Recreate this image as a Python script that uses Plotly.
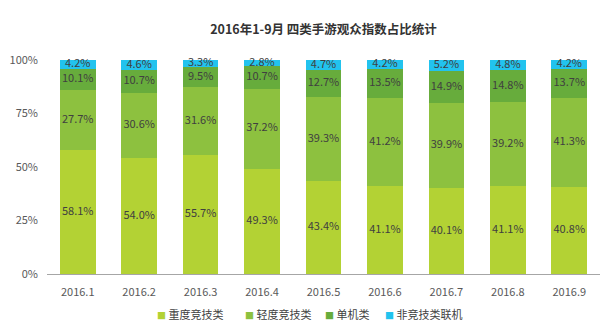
import plotly.graph_objects as go

months = ["2016.1", "2016.2", "2016.3", "2016.4", "2016.5", "2016.6", "2016.7", "2016.8", "2016.9"]
heavy = [58.1, 54.0, 55.7, 49.3, 43.4, 41.1, 40.1, 41.1, 40.8]
light = [27.7, 30.6, 31.6, 37.2, 39.3, 41.2, 39.9, 39.2, 41.3]
single = [10.1, 10.7, 9.5, 10.7, 12.7, 13.5, 14.9, 14.8, 13.7]
online = [4.2, 4.6, 3.3, 2.8, 4.7, 4.2, 5.2, 4.8, 4.2]

series = [
    ("重度竞技类", heavy, "#b3d234"),
    ("轻度竞技类", light, "#8dc13f"),
    ("单机类", single, "#67ac3c"),
    ("非竞技类联机", online, "#22c3ee"),
]
legend_x = [155, 243, 323, 383]

font = "Noto Sans CJK SC"
fig = go.Figure()
base = [0.0] * len(months)
for name, vals, color in series:
    fig.add_trace(go.Bar(
        x=months, y=vals, name=name,
        marker=dict(color=color, line=dict(width=0)),
        textposition="none", cliponaxis=False,
    ))
    mids = [b + v / 2 for b, v in zip(base, vals)]
    fig.add_trace(go.Scatter(
        x=months, y=mids, mode="text", text=[f"{v:.1f}%" for v in vals],
        textposition="middle center", showlegend=False, hoverinfo="skip",
        textfont=dict(color="#404040", size=11, family=font), cliponaxis=False,
    ))
    base = [b + v for b, v in zip(base, vals)]

for (name, vals, color), lx in zip(series, legend_x):
    fig.add_annotation(
        xref="paper", yref="paper", x=(lx - 47) / 553, y=-(314 - 274) / 214,
        xanchor="left", yanchor="middle", showarrow=False,
        text=f"<span style='color:{color};font-size:9px'>■</span> {name}",
        font=dict(size=11, color="#404040", family=font),
    )

fig.update_layout(
    barmode="stack", bargap=0.42,
    width=600, height=326,
    margin=dict(l=47, r=0, t=60, b=52),
    plot_bgcolor="white", paper_bgcolor="white",
    font=dict(family=font, color="#595959", size=11),
    showlegend=False,
    title=dict(text="<b>2016年1-9月 四类手游观众指数占比统计</b>", xref="paper", x=0.5, xanchor="center",
               y=1 - 30/326, yanchor="middle", font=dict(size=12.5, color="#333333", family=font)),
    xaxis=dict(showline=True, linecolor="#a6a6a6", linewidth=1, ticks="", showgrid=False,
               tickfont=dict(size=11, color="#595959"), ticklabelstandoff=8),
    yaxis=dict(range=[0, 100], tickvals=[0, 25, 50, 75, 100],
               ticktext=["0%", "25%", "50%", "75%", "100%"], showgrid=False, zeroline=False,
               tickfont=dict(size=11, color="#595959"), ticklabelstandoff=8),
)
fig.write_html("out.html")
